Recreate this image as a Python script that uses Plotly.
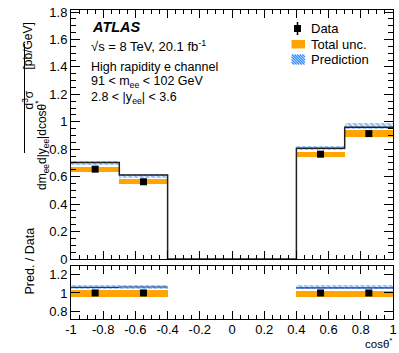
import plotly.graph_objects as go

# bins in cos(theta*)
edges = [-1.0, -0.7, -0.4, 0.4, 0.7, 1.0]
centers = [-0.85, -0.55, 0.55, 0.85]
widths = [0.3, 0.3, 0.3, 0.3]

data_val = [0.655, 0.563, 0.764, 0.914]
data_err = [0.008, 0.008, 0.008, 0.008]
tot_lo = [0.637, 0.547, 0.740, 0.887]
tot_hi = [0.670, 0.585, 0.783, 0.937]

pred_val = [0.703, 0.612, 0.0, 0.808, 0.961]   # step values, one per edge interval
pred_lo = [0.686, 0.591, 0.791, 0.946]
pred_hi = [0.713, 0.620, 0.827, 0.990]

ratio_data = [1.0, 1.0, 1.0, 1.0]
ratio_tot_lo = [0.962, 0.962, 0.958, 0.958]
ratio_tot_hi = [1.034, 1.034, 1.018, 1.018]
ratio_pred = [1.060, 1.064, 1.054, 1.054]
ratio_pred_lo = [1.043, 1.047, 1.040, 1.040]
ratio_pred_hi = [1.083, 1.087, 1.085, 1.085]

xticks = [-1, -0.8, -0.6, -0.4, -0.2, 0, 0.2, 0.4, 0.6, 0.8, 1]
xtick_text = ["-1", "-0.8", "-0.6", "-0.4", "-0.2", "0", "0.2", "0.4", "0.6", "0.8", "1"]
yticks = [0, 0.2, 0.4, 0.6, 0.8, 1.0, 1.2, 1.4, 1.6, 1.8]
ytick_text = ["0", "0.2", "0.4", "0.6", "0.8", "1", "1.2", "1.4", "1.6", "1.8"]
rticks = [0.8, 1.0, 1.2]
rtick_text = ["0.8", "1", "1.2"]

ORANGE = "#FFA400"
BLUE = "#2A85FF"
FONT = "Liberation Sans, Arial, sans-serif"
HATCH = dict(shape="\\", fgcolor=BLUE, bgcolor="white", size=4, solidity=0.7)

W, H = 399, 353
L, R, T, B = 71, 6, 10, 34
PW, PH = W - L - R, H - T - B


def px(x):
    return (x - L) / PW


def py(y):
    return (H - B - y) / PH


fig = go.Figure()

# main panel
fig.add_trace(go.Bar(x=centers, y=[h - l for h, l in zip(tot_hi, tot_lo)], base=tot_lo, width=widths,
                     marker=dict(color=ORANGE, line_width=0), showlegend=False, xaxis="x", yaxis="y"))
fig.add_trace(go.Bar(x=centers, y=[h - l for h, l in zip(pred_hi, pred_lo)], base=pred_lo, width=widths,
                     marker=dict(color="white", line_width=0, pattern=HATCH),
                     showlegend=False, xaxis="x", yaxis="y"))
fig.add_trace(go.Scatter(x=edges, y=pred_val + [pred_val[-1]], mode="lines",
                         line=dict(color="#222222", width=1.5, shape="hv"),
                         showlegend=False, xaxis="x", yaxis="y"))
fig.add_trace(go.Scatter(x=centers, y=data_val, mode="markers", showlegend=False,
                         marker=dict(symbol="square", size=7, color="black"),
                         error_y=dict(type="data", array=data_err, color="black", thickness=1.5, width=0),
                         xaxis="x", yaxis="y"))

# ratio panel
fig.add_trace(go.Bar(x=centers, y=[h - l for h, l in zip(ratio_tot_hi, ratio_tot_lo)], base=ratio_tot_lo,
                     width=widths, marker=dict(color=ORANGE, line_width=0), showlegend=False,
                     xaxis="x2", yaxis="y2"))
fig.add_trace(go.Bar(x=centers, y=[h - l for h, l in zip(ratio_pred_hi, ratio_pred_lo)], base=ratio_pred_lo,
                     width=widths, marker=dict(color="white", line_width=0, pattern=HATCH),
                     showlegend=False, xaxis="x2", yaxis="y2"))
for c, w, r in zip(centers, widths, ratio_pred):
    fig.add_trace(go.Scatter(x=[c - w / 2, c + w / 2], y=[r, r], mode="lines",
                             line=dict(color="#1a3a8a", width=1.2), showlegend=False, xaxis="x2", yaxis="y2"))
fig.add_trace(go.Scatter(x=centers, y=ratio_data, mode="markers", showlegend=False,
                         marker=dict(symbol="square", size=7, color="black"), xaxis="x2", yaxis="y2"))

axis_common = dict(showline=True, linecolor="black", linewidth=1, mirror="allticks", ticks="inside",
                   tickcolor="black", showgrid=False, zeroline=False, automargin=False,
                   tickfont=dict(family=FONT, size=13, color="black"))

fig.update_layout(
    width=W, height=H,
    margin=dict(l=L, r=R, t=T, b=B),
    paper_bgcolor="white", plot_bgcolor="white",
    barmode="overlay", bargap=0, showlegend=False,
    font=dict(family=FONT, size=13, color="black"),
    xaxis=dict(axis_common, range=[-1, 1], domain=[0, 1], anchor="y", matches="x2", showticklabels=False,
               tickvals=xticks, ticklen=8, minor=dict(ticks="inside", dtick=0.05, ticklen=4, tickcolor="black")),
    yaxis=dict(axis_common, range=[0, 1.815], domain=[py(259), 1], anchor="x",
               tickvals=yticks, ticktext=ytick_text, ticklen=9,
               minor=dict(ticks="inside", dtick=0.05, ticklen=5, tickcolor="black")),
    xaxis2=dict(axis_common, range=[-1, 1], domain=[0, 1], anchor="y2",
                tickvals=xticks, ticktext=xtick_text, ticklen=8, ticklabelstandoff=-2,
                minor=dict(ticks="inside", dtick=0.05, ticklen=4, tickcolor="black")),
    yaxis2=dict(axis_common, range=[0.72, 1.29], domain=[0, py(266)], anchor="x2",
                tickvals=rticks, ticktext=rtick_text, ticklen=9),
)

texts = [
    ("<b><i>ATLAS</i></b>", 90, 27, 14.5),
    ("√s = 8 TeV, 20.1 fb<sup>-1</sup>", 89, 46, 13),
    ("High rapidity e channel", 89, 67, 12.5),
    ("91 < m<sub>ee</sub> < 102 GeV", 89, 82, 12.5),
    ("2.8 < |y<sub>ee</sub>| < 3.6", 89, 98, 12.5),
    ("Data", 309, 28.5, 13),
    ("Total unc.", 309, 44.5, 13),
    ("Prediction", 309, 59.5, 13),
]
for t, x, y, s in texts:
    fig.add_annotation(text=t, x=px(x), y=py(y), xref="paper", yref="paper", xanchor="left", yanchor="middle",
                       showarrow=False, font=dict(family=FONT, size=s, color="black"))

# legend symbols (drawn in pixel-derived paper coordinates)
fig.add_shape(type="line", x0=px(297.5), x1=px(297.5), y0=py(22), y1=py(35), xref="paper", yref="paper",
              line=dict(color="black", width=1.5))
fig.add_shape(type="rect", x0=px(294), x1=px(301), y0=py(25), y1=py(32), xref="paper", yref="paper",
              line=dict(width=0), fillcolor="black")
fig.add_shape(type="rect", x0=px(291.5), x1=px(305), y0=py(40), y1=py(48.5), xref="paper", yref="paper",
              line=dict(width=0), fillcolor=ORANGE)
# hatched box for "Prediction"
bx0, bx1, by0, by1 = 291.5, 305.0, 54.5, 64.5
hh = by1 - by0
s = bx0 - hh
while s < bx1:
    xa, ya = s, by0
    xb, yb = s + hh, by1
    if xa < bx0:
        ya = by0 + (bx0 - xa)
        xa = bx0
    if xb > bx1:
        yb = by1 - (xb - bx1)
        xb = bx1
    if xb > xa:
        fig.add_shape(type="line", x0=px(xa), x1=px(xb), y0=py(ya), y1=py(yb), xref="paper", yref="paper",
                      line=dict(color=BLUE, width=1.2))
    s += 2.6

# y-axis titles
fig.add_annotation(text="[pb/GeV]", x=px(18), y=py(21), xref="paper", yref="paper", textangle=-90,
                   showarrow=False, font=dict(family=FONT, size=12))
fig.add_annotation(text="d<sup>3</sup>σ", x=px(17), y=py(88), xref="paper", yref="paper", textangle=-90,
                   showarrow=False, font=dict(family=FONT, size=12))
fig.add_annotation(text="dm<sub>ee</sub>d|y<sub>ee</sub>|dcosθ<sup>*</sup>", x=px(31), y=py(98),
                   xref="paper", yref="paper", textangle=-90, showarrow=False, font=dict(family=FONT, size=12))
fig.add_shape(type="line", x0=px(24.5), x1=px(24.5), y0=py(44), y1=py(153), xref="paper", yref="paper",
              line=dict(color="black", width=1))
fig.add_annotation(text="Pred. / Data", x=px(20), y=py(297), xref="paper", yref="paper", textangle=-90,
                   showarrow=False, font=dict(family=FONT, size=12.5))
fig.add_annotation(text="cosθ<sup>*</sup>", x=px(394), y=py(343), xref="paper", yref="paper",
                   xanchor="right", yanchor="middle",
                   showarrow=False, font=dict(family=FONT, size=11.5))

fig.write_html("out.html", config={"displayModeBar": False},
               post_script="document.body.style.margin='0px';document.body.style.overflow='hidden';")
